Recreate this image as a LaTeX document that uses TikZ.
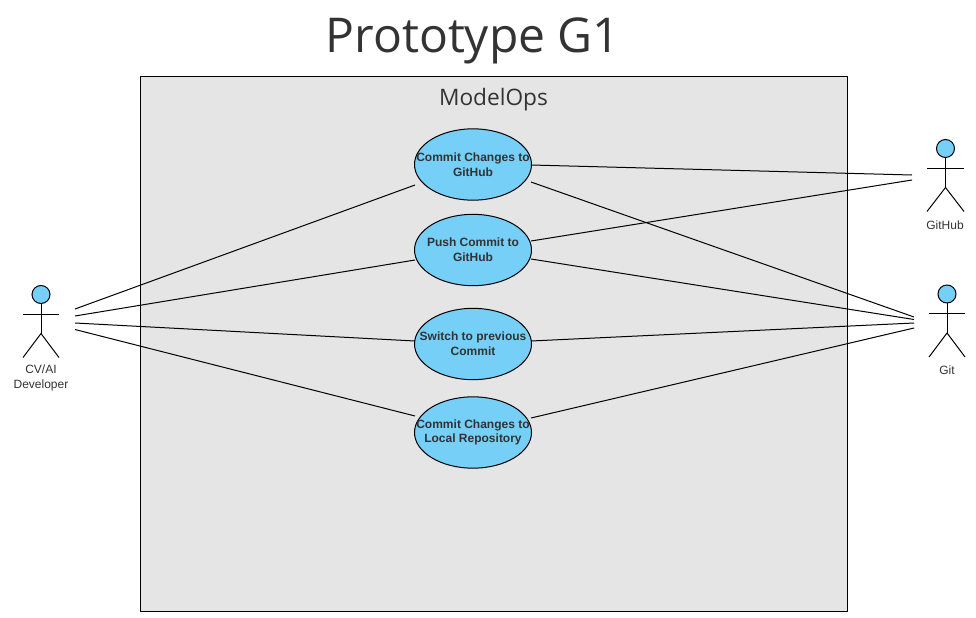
\documentclass[tikz,border=0pt]{standalone}
\usepackage{fontspec}
\usetikzlibrary{shapes.geometric}
\setmainfont{Liberation Sans}
\newfontfamily\titlefont{Open Sans}
\definecolor{usecase}{HTML}{76CFF7}
\definecolor{sysgray}{HTML}{E5E5E5}
\definecolor{inktext}{HTML}{333333}
\tikzset{
  usecase/.style={draw, ellipse, fill=usecase, minimum width=87.75pt, minimum height=53.5pt,
    inner xsep=-45pt, inner ysep=-20pt, outer sep=0pt,
    text=inktext, font=\fontsize{9}{11}\selectfont\bfseries, align=center},
  head/.style={draw, circle, fill=usecase, minimum size=13.5pt, inner sep=0pt, outer sep=0pt},
  actorlabel/.style={text=inktext, font=\fontsize{9}{11.2}\selectfont, align=center, inner sep=0pt},
  assoc/.style={line width=0.75pt}
}

\begin{document}
\begin{tikzpicture}[x=0.75pt, y=-0.75pt, line width=0.75pt]
  \useasboundingbox (0,0) rectangle (976,618);
  \node[text=inktext, font=\titlefont\fontsize{36}{40}\selectfont, inner sep=0pt] (title) at (473,41) {Prototype G1};
  \draw[fill=sysgray] (140,76.5) rectangle (847,611);
  \node[text=inktext, font=\titlefont\fontsize{17}{21}\selectfont, inner sep=0pt] (system) at (493.5,99.5) {ModelOps};

  % use cases
  \node[usecase] (cgh) at (473,164.5) {Commit Changes to\\GitHub};
  \node[usecase] (pgh) at (473,250) {Push Commit to\\GitHub};
  \node[usecase] (swp) at (473,344) {Switch to previous\\Commit};
  \node[usecase] (clr) at (473,432.5) {Commit Changes to\\Local Repository};

  % actors
  \foreach \name/\cx/\cy/\hw in {dev/41/294.5/18, github/945.5/148.5/18.5, git/947/294/18}{
    \node[head] (\name) at (\cx,\cy) {};
    \draw (\name.south) -- ++(0,30) coordinate (\name hip);
    \draw (\cx-\hw,\cy+19.5) -- (\cx+\hw,\cy+19.5);
    \draw (\name hip) -- ++(-\hw,24);
    \draw (\name hip) -- ++(\hw,24);
  }
  \node[actorlabel, text width=70pt] (devlabel) at (41,378) {CV/AI\\Developer};
  \node[actorlabel] (githublabel) at (945,225) {GitHub};
  \node[actorlabel] (gitlabel) at (947,370) {Git};

  % free ends
  \coordinate (devA) at (75,309);
  \coordinate (devB) at (75,316);
  \coordinate (devC) at (75,323);
  \coordinate (devD) at (75,329.5);
  \coordinate (githubA) at (912,175);
  \coordinate (githubB) at (912,180);
  \coordinate (gitA) at (914,317);
  \coordinate (gitB) at (914,319.5);
  \coordinate (gitC) at (914,323);
  \coordinate (gitD) at (914,328);
  \coordinate (cghL) at (415,185);
  \coordinate (cghR) at (531,165);
  \coordinate (cghS) at (531,182);
  \coordinate (pghL) at (415,260);
  \coordinate (pghR) at (531,241);
  \coordinate (pghS) at (531,259);
  \coordinate (swpL) at (415,341);
  \coordinate (swpR) at (531,341);
  \coordinate (clrL) at (415,416);
  \coordinate (clrR) at (531,418);

  % associations
  \draw[assoc] (devA) -- (cghL);
  \draw[assoc] (devB) -- (pghL);
  \draw[assoc] (devC) -- (swpL);
  \draw[assoc] (devD) -- (clrL);
  \draw[assoc] (cghR) -- (githubA);
  \draw[assoc] (pghR) -- (githubB);
  \draw[assoc] (cghS) -- (gitA);
  \draw[assoc] (pghS) -- (gitB);
  \draw[assoc] (swpR) -- (gitC);
  \draw[assoc] (clrR) -- (gitD);
\end{tikzpicture}
\end{document}
